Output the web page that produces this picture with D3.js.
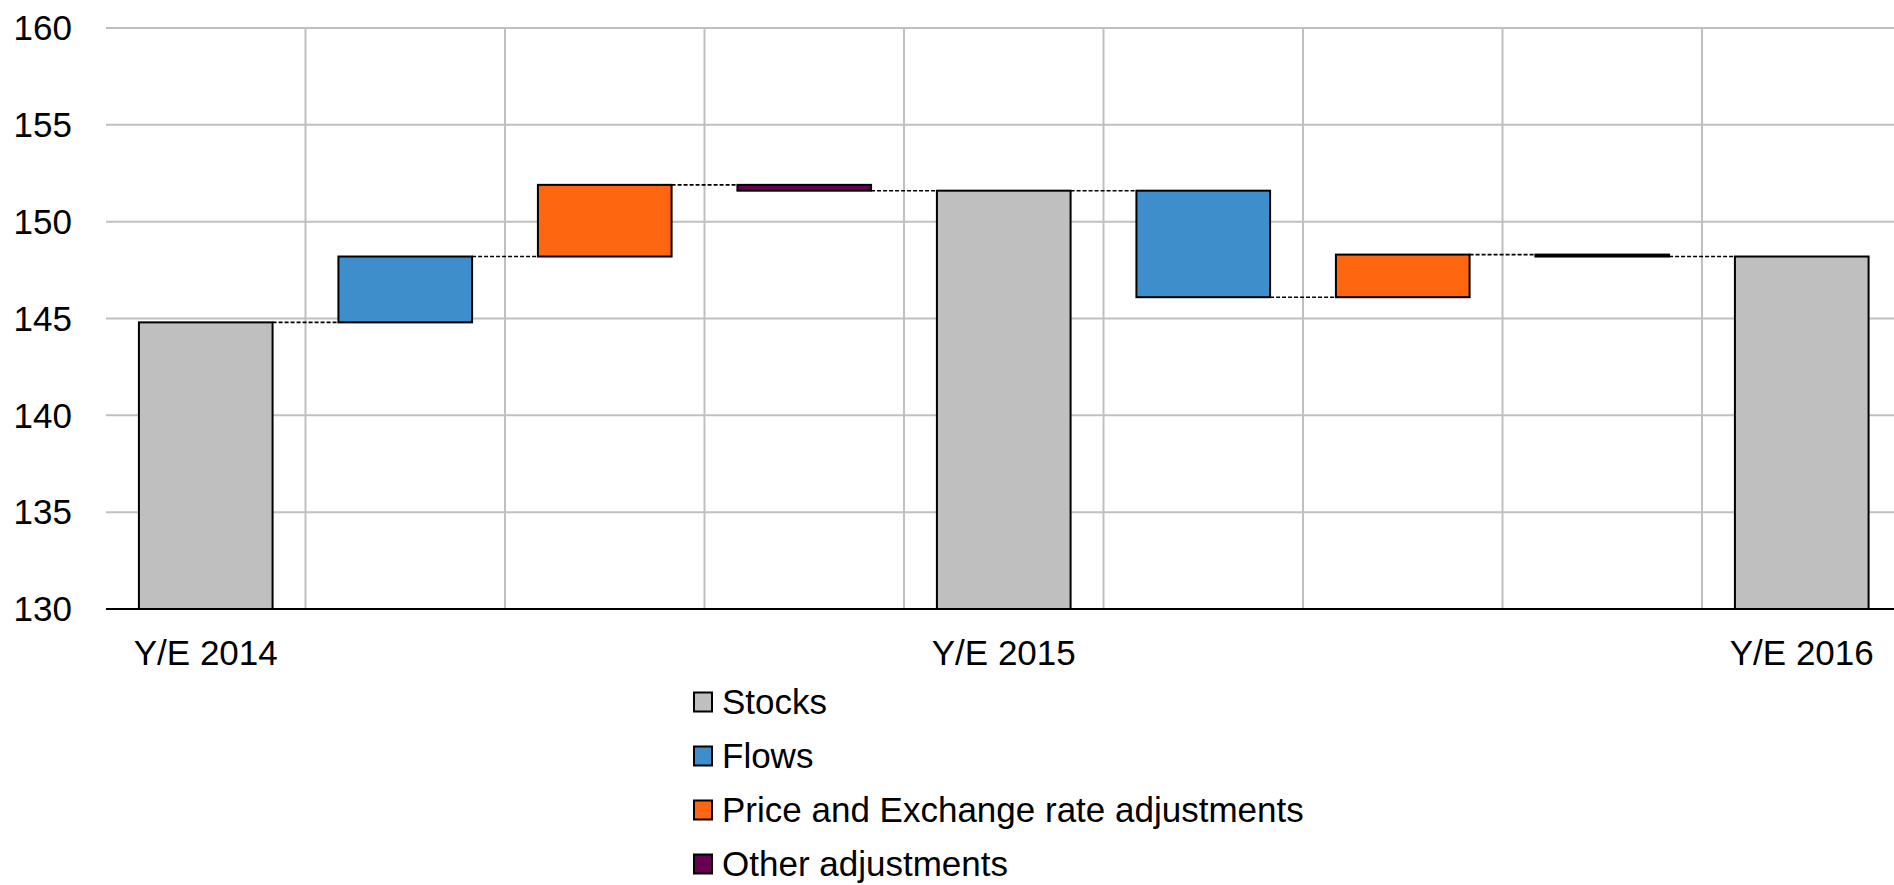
<!DOCTYPE html>
<meta charset="utf-8">
<style>
	body { margin: 0; background: #fff; }
	svg { display: block; }
	text { font-family: "Liberation Sans", Arial, sans-serif; fill: #000; }
</style>
<body>
<script src="https://d3js.org/d3.v7.min.js"></script>
<script>

	//Chart values
	var categories = ["Y/E 2014", "Flows 15", "Price 15", "Other 15", "Y/E 2015", "Flows 16", "Price 16", "Other 16", "Y/E 2016"];
	var tickLabels = ["Y/E 2014", "", "", "", "Y/E 2015", "", "", "", "Y/E 2016"];
	var kinds      = ["stock", "flow", "price", "other", "stock", "flow", "price", "other", "stock"];
	var stocks     = [144.8, 151.6, 148.2];
	var flows      = [3.4, -5.5];
	var priceAdj   = [3.7, 2.2];
	var otherAdj   = [-0.3, -0.1];
	var yTicks     = [130, 135, 140, 145, 150, 155, 160];
	var legendNames = ["Stocks", "Flows", "Price and Exchange rate adjustments", "Other adjustments"];

	var colors = { stock: "#bfbfbf", flow: "#3d8ecb", price: "#ff6610", other: "#660050" };
	var legendKinds = ["stock", "flow", "price", "other"];

	//Build waterfall steps
	var steps = [];
	var counters = { stock: 0, flow: 0, price: 0, other: 0 };
	var level = 0;
	categories.forEach(function(c, i) {
		var k = kinds[i];
		var j = counters[k]++;
		var d;
		if (k == "stock") {
			level = stocks[j];
			d = { cat: c, kind: k, y0: 130, y1: level, end: level };
		} else {
			var v = k == "flow" ? flows[j] : k == "price" ? priceAdj[j] : otherAdj[j];
			var start = level;
			level = +(level + v).toFixed(3);
			d = { cat: c, kind: k, y0: start, y1: level, end: level };
		}
		steps.push(d);
	});

	var W = 1894, H = 885;
	var plotLeft = 106, plotRight = 1901.5, plotTop = 28, plotBottom = 609;

	var svg = d3.select("body").append("svg")
		.attr("width", W)
		.attr("height", H);

	var x = d3.scaleBand()
		.domain(categories)
		.range([plotLeft, plotRight])
		.paddingInner(0.33)
		.paddingOuter(0.165);

	var y = d3.scaleLinear()
		.domain([130, 160])
		.range([plotBottom, plotTop]);

	//Horizontal gridlines
	svg.append("g").selectAll("line")
		.data(yTicks.slice(1))
		.enter().append("line")
		.attr("x1", plotLeft).attr("x2", W)
		.attr("y1", function(d) { return y(d); })
		.attr("y2", function(d) { return y(d); })
		.attr("stroke", "#c0c0c0")
		.attr("stroke-width", 2);

	//Vertical gridlines between categories
	svg.append("g").selectAll("line")
		.data(categories.slice(1))
		.enter().append("line")
		.attr("x1", function(d) { return x(d) - x.step() * x.paddingInner() / 2; })
		.attr("x2", function(d) { return x(d) - x.step() * x.paddingInner() / 2; })
		.attr("y1", y(160)).attr("y2", y(130))
		.attr("stroke", "#c0c0c0")
		.attr("stroke-width", 2);

	//Dashed connectors
	svg.append("g").selectAll("line")
		.data(steps.slice(0, -1))
		.enter().append("line")
		.attr("x1", function(d) { return x(d.cat) + x.bandwidth(); })
		.attr("x2", function(d, i) { return x(categories[i + 1]); })
		.attr("y1", function(d) { return y(d.end); })
		.attr("y2", function(d) { return y(d.end); })
		.attr("stroke", "#000")
		.attr("stroke-width", 1.6)
		.attr("stroke-dasharray", "4,2");

	//Bars
	svg.append("g").selectAll("rect")
		.data(steps)
		.enter().append("rect")
		.attr("x", function(d) { return x(d.cat); })
		.attr("width", x.bandwidth())
		.attr("y", function(d) { return y(Math.max(d.y0, d.y1)); })
		.attr("height", function(d) { return Math.abs(y(d.y0) - y(d.y1)); })
		.attr("fill", function(d) { return colors[d.kind]; })
		.attr("stroke", "#000")
		.attr("stroke-width", 2);

	//Axis line
	svg.append("line")
		.attr("x1", plotLeft).attr("x2", W)
		.attr("y1", y(130)).attr("y2", y(130))
		.attr("stroke", "#000")
		.attr("stroke-width", 2);

	//Y tick labels
	svg.append("g").selectAll("text")
		.data(yTicks)
		.enter().append("text")
		.attr("x", 72)
		.attr("y", function(d) { return y(d); })
		.attr("dy", "0.35em")
		.attr("text-anchor", "end")
		.attr("font-size", "35px")
		.text(function(d) { return d; });

	//X tick labels
	svg.append("g").selectAll("text")
		.data(categories)
		.enter().append("text")
		.attr("x", function(d) { return x(d) + x.bandwidth() / 2; })
		.attr("y", 665)
		.attr("text-anchor", "middle")
		.attr("font-size", "35px")
		.text(function(d, i) { return tickLabels[i]; });

	//Legend
	var legend = svg.append("g").selectAll("g")
		.data(legendNames)
		.enter().append("g")
		.attr("transform", function(d, i) { return "translate(694," + (702 + i * 54) + ")"; });

	legend.append("rect")
		.attr("x", 0).attr("y", -9.5)
		.attr("width", 18).attr("height", 19)
		.attr("fill", function(d, i) { return colors[legendKinds[i]]; })
		.attr("stroke", "#000")
		.attr("stroke-width", 2);

	legend.append("text")
		.attr("x", 28)
		.attr("y", 0)
		.attr("dy", "0.35em")
		.attr("font-size", "35px")
		.text(function(d) { return d; });

</script>
</body>
